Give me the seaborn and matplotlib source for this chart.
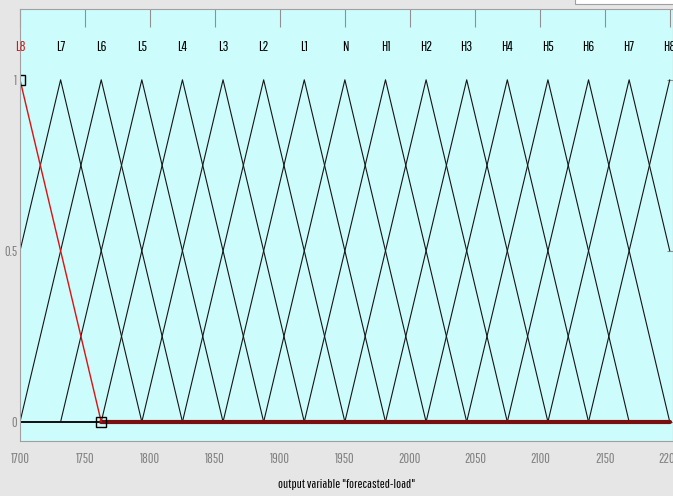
import numpy as np
import pandas as pd
import seaborn as sns
import matplotlib.pyplot as plt
from matplotlib.patches import Rectangle

# membership functions of output variable "forecasted-load" (trimf)
mf_names = ['L8', 'L7', 'L6', 'L5', 'L4', 'L3', 'L2', 'L1', 'N',
            'H1', 'H2', 'H3', 'H4', 'H5', 'H6', 'H7', 'H8']
mf_centers = [1700, 1731.25, 1762.5, 1793.75, 1825, 1856.25, 1887.5, 1918.75, 1950,
              1981.25, 2012.5, 2043.75, 2075, 2106.25, 2137.5, 2168.75, 2200]
mf_halfwidth = [62.5] * 17
x_range = [1700, 2200]
selected = 'L8'

sns.set_theme(style='white')
plt.rcParams['font.family'] = ['Pathway Gothic One', 'DejaVu Sans']

# build curves
rows = []
for name, c, hw in zip(mf_names, mf_centers, mf_halfwidth):
    xs = sorted(set([x_range[0], max(x_range[0], c - hw), c,
                     min(x_range[1], c + hw), x_range[1]]))
    for x in xs:
        y = max(0.0, 1 - abs(x - c) / hw)
        rows.append({'mf': name, 'x': x, 'y': y})
df = pd.DataFrame(rows)

fig = plt.figure(figsize=(6.73, 4.96), dpi=100, facecolor='#e6e6e6')
ax = fig.add_axes([20 / 673, 1 - 441 / 496, 653 / 673, 432 / 496])
ax.set_facecolor('#cdfcfc')

others = df[df['mf'] != selected]
sns.lineplot(data=others, x='x', y='y', units='mf', estimator=None, sort=False,
             color='#151515', linewidth=0.8, ax=ax)

sel = df[df['mf'] == selected]
sel_c = mf_centers[mf_names.index(selected)]
sel_hw = mf_halfwidth[mf_names.index(selected)]
slope = sel[sel['x'] <= sel_c + sel_hw]
flat = sel[sel['x'] >= sel_c + sel_hw]
sns.lineplot(data=flat, x='x', y='y', estimator=None, sort=False,
             color='#7a0f0f', linewidth=3, ax=ax)
sns.lineplot(data=slope, x='x', y='y', estimator=None, sort=False,
             color='#e01010', linewidth=1.0, ax=ax)
ax.plot([sel_c, sel_c + sel_hw], [1, 0], linestyle='none', marker='s',
        markersize=7, markerfacecolor='none', markeredgecolor='black', markeredgewidth=1)

for name, c in zip(mf_names, mf_centers):
    ax.text(c, 1.095, name, ha='center', va='center', fontsize=10.5,
            color='#e01010' if name == selected else 'black', clip_on=False)

ax.set_xlim(1700, 2202.5)
ax.set_ylim(-0.056, 1.207)
ax.set_xticks(np.arange(1700, 2201, 50))
ax.set_yticks([0, 0.5, 1])
ax.set_yticklabels(['0', '0.5', '1'])
ax.tick_params(axis='both', which='both', direction='in', top=True, right=True,
               colors='#909090', labelcolor='#808080', labelsize=10, width=0.8)
ax.tick_params(axis='x', length=13, pad=8)
ax.tick_params(axis='y', length=4.5, pad=2)
for s in ax.spines.values():
    s.set_color('#a0a0a0')
    s.set_linewidth(0.8)
ax.set_xlabel('output variable "forecasted-load"', fontsize=9.5, color='black', labelpad=9)
ax.set_ylabel('')

fig.patches.append(Rectangle((575 / 673, 1 - 4 / 496), 0.2, 0.02, transform=fig.transFigure,
                             facecolor='white', edgecolor='#a0a0a0', linewidth=0.8))

fig.savefig('out.png', dpi=100, facecolor=fig.get_facecolor())
